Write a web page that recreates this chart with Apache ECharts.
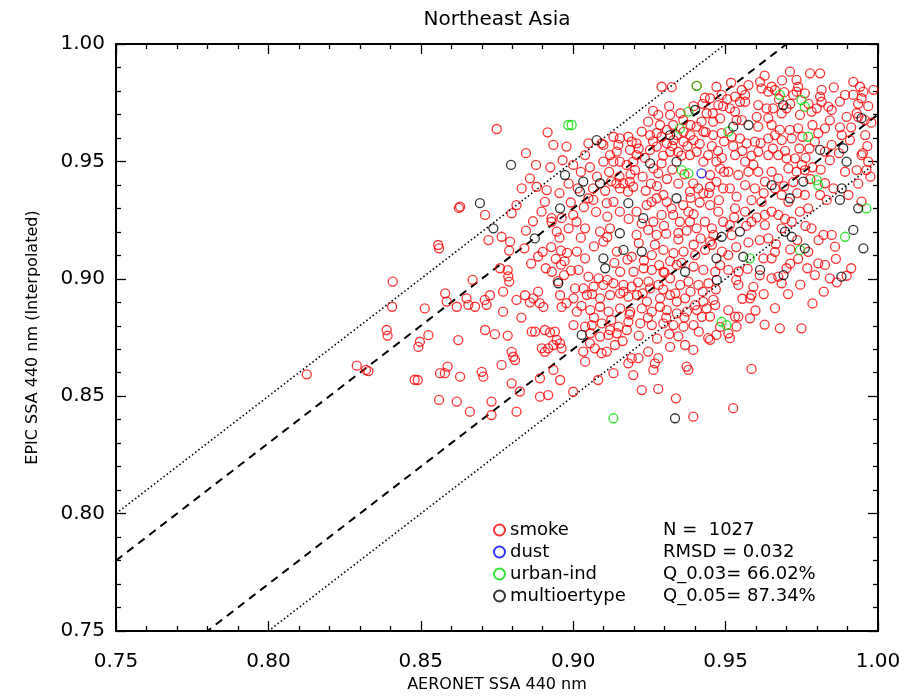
<!DOCTYPE html>
<html>
<head>
<meta charset="utf-8">
<script src="https://cdn.jsdelivr.net/npm/echarts@6/dist/echarts.min.js"></script>
<style>
  html, body { margin: 0; padding: 0; background: #fff; }
  #chart { width: 918px; height: 698px; }
</style>
</head>
<body>
<div id="chart"></div>
<script>
// AERONET vs EPIC single scattering albedo at 440 nm, Northeast Asia
const titleText = 'Northeast Asia';
const xName = 'AERONET SSA 440 nm';
const yName = 'EPIC SSA 440 nm (Interpolated)';
const axisMin = 0.75, axisMax = 1.0, axisStep = 0.05;

// [AERONET, EPIC] pairs per aerosol type
const smoke = [
  [.8126,.8593],[.829,.863],[.832,.8612],[.8328,.8607],[.8408,.8988],[.8406,.8881],[.8388,.8782],[.8391,.8758],[.848,.857],
  [.8749,.9638],[.8916,.9624],[.8935,.957],[.8978,.9563],[.8858,.9428],[.8831,.9385],[.888,.9392],[.8913,.9378],[.8907,.9328],
  [.8896,.9286],[.8629,.9307],[.8625,.9302],[.8711,.9272],[.8798,.9279],[.8814,.9314],[.8929,.9258],[.8962,.9258],[.8946,.9201],
  [.8929,.9243],[.8722,.9165],[.8765,.9179],[.8793,.9158],[.8557,.9144],
  [.856,.913],[.879,.912],[.884,.913],[.890,.9115],[.896,.912],[.898,.911],
  [.876,.9045],[.8785,.9037],[.8787,.901],[.879,.8988],[.877,.8945],
  [.891,.9045],[.893,.903],[.896,.906],[.897,.9016],[.895,.899],
  [.867,.8995],[.858,.8938],[.8585,.8903],[.8513,.8874],
  [.8618,.8881],[.865,.8917],[.8656,.8889],[.8678,.8881],[.871,.891],[.8727,.893],[.8716,.8889],
  [.877,.886],[.8814,.891],[.8842,.893],[.8858,.890],[.8869,.8917],[.8885,.8945],[.889,.8896],[.8902,.888],
  [.883,.8835],[.8957,.893],[.8962,.888],[.8978,.8896],
  [.8525,.876],[.8497,.8732],[.8492,.871],[.8623,.8739],
  [.8711,.8782],[.8743,.8764],[.8785,.8758],
  [.8864,.8775],[.8875,.8775],[.8907,.8782],[.8924,.8772],[.894,.8775],[.8946,.874],[.8957,.8725],[.8935,.8718],
  [.8918,.8704],[.8897,.8704],[.8907,.8689],[.8962,.8704],
  [.8798,.8689],[.8803,.8668],[.8809,.8654],[.8765,.8633],
  [.8563,.8598],[.8579,.8598],[.8588,.8626],[.8629,.8583],[.870,.8604],[.8705,.8583],
  [.849,.8569],[.8798,.8555],[.8825,.852],[.8891,.8576],[.8935,.8612],[.8957,.8569],
  [.8891,.8498],[.8918,.8505],
  [.856,.8484],[.8618,.8477],[.8732,.8477],[.8661,.8434],[.8732,.842],[.8814,.8434],
  [.9394,.8413],[.9337,.8491],[.9225,.8526],[.9279,.8531],
  [.9197,.859],[.9132,.8598],[.9082,.8569],[.9039,.8647],[.900,.8519],
  [.9263,.8612],[.9268,.864],[.9279,.8662],[.9192,.8662],[.9214,.8662],[.9181,.864],[.9246,.869],[.9318,.871],
  [.9378,.8612],[.9372,.8626],[.9394,.8697],[.9367,.8718],
  [.9443,.8747],[.9449,.874],[.947,.8761],
  [.9033,.869],[.9071,.8704],[.9093,.8683],[.911,.869],[.9137,.8718],[.9055,.8725],
  [.9012,.9116],[.9039,.9087],[.9143,.9116],[.9192,.9094],[.9258,.9101],[.9296,.9123],[.9329,.9109],[.9362,.9116],
  [.9400,.9101],[.9433,.9123],[.9488,.9116],
  [.9017,.9038],[.9050,.9009],[.9083,.9002],[.9154,.9030],[.9198,.9030],[.9231,.9045],[.9258,.9038],[.9296,.9030],
  [.9300,.9025],[.9340,.9059],[.9395,.9052],[.9427,.9038],[.9466,.9030],
  [.9006,.8959],[.9034,.8959],[.9067,.8967],[.9099,.8974],[.9132,.8981],[.9165,.8974],[.9192,.8967],[.9247,.8988],
  [.9252,.8959],[.9280,.8974],[.9318,.9002],[.9351,.8974],[.9378,.8988],[.9411,.8974],[.9444,.8981],
  [.9001,.8917],[.9045,.8931],[.9088,.8917],[.9121,.8931],[.9154,.8938],[.9181,.8924],[.9209,.8931],[.9242,.8903],
  [.9285,.8917],[.9318,.8931],[.9340,.8903],[.9367,.8917],[.9400,.8888],[.9427,.8903],[.9460,.8910],
  [.9012,.8860],[.9056,.8867],[.9088,.8881],[.9116,.8860],[.9154,.8874],[.9187,.8860],[.9225,.8874],[.9258,.8860],
  [.9285,.8881],[.9307,.8867],[.9340,.8853],[.9373,.8860],[.9406,.8867],[.9438,.8874],[.9466,.8888],
  [.9001,.8803],[.9039,.8796],[.9061,.8803],[.9094,.8810],[.9121,.8782],[.9149,.8796],[.9181,.8817],[.9220,.8810],
  [.9258,.8803],[.9296,.8810],[.9329,.8803],[.9362,.8796],[.9395,.8803],[.9449,.8839],
  [.9056,.8768],[.9088,.8754],[.9116,.8761],[.9143,.8768],[.9176,.8782],
  [.9509,.9101],[.9624,.9087],[.9651,.9087],[.9662,.9115],[.9771,.9115],[.9804,.9066],[.9826,.9059],[.9859,.9137],
  [.9509,.9038],[.9542,.903],[.9651,.9002],[.9673,.9009],[.970,.9045],[.9684,.8981],[.9793,.9016],[.9842,.9002],[.9897,.9013],
  [.9542,.8974],[.9591,.8966],[.9585,.8931],[.958,.8917],
  [.9509,.8867],[.9542,.8839],[.9531,.8839],[.958,.8832],[.9536,.8796],[.9509,.8768],[.9514,.8747],
  [.9678,.8789],[.9749,.8789],[.9585,.8616],[.9525,.8449],
  [.929,.9818],[.9323,.9816],[.9405,.9822],[.947,.9818],[.9487,.9783],[.9476,.974],[.9432,.9771],[.9449,.9769],
  [.9279,.9698],[.9318,.9698],[.9361,.9676],[.9328,.9655],[.9285,.9655],[.9246,.9669],
  [.9438,.9705],[.9421,.9669],[.9459,.9669],[.9482,.9683],[.9405,.9648],[.9427,.9627],[.9459,.9612],[.9487,.962],
  [.9225,.9627],[.9252,.9612],[.9274,.962],[.9307,.9634],[.929,.9605],
  [.9340,.9612],[.9362,.9626],[.9384,.9612],[.9329,.9591],[.9362,.9584],[.9395,.9591],
  [.9093,.9577],[.9099,.957],[.9132,.9605],[.9153,.9598],[.9148,.957],[.9181,.9605],[.9192,.9584],[.9208,.9577],
  [.9186,.9549],[.9143,.9542],[.9121,.9527],[.9099,.9499],[.9132,.9499],[.9153,.9499],[.9175,.9485],[.9208,.9527],
  [.9197,.9499],[.9203,.9463],
  [.900,.9485],[.9039,.9527],[.905,.9577],
  [.929,.9492],[.9279,.9449],[.9263,.947],[.9344,.9541],[.9318,.9541],[.9307,.9577],[.9274,.9563],[.9252,.9549],
  [.9394,.9406],[.941,.9385],[.9427,.9364],[.9383,.9371],[.9449,.9392],[.947,.9413],[.9449,.9442],[.9482,.947],
  [.947,.9499],[.9427,.9499],[.9443,.9527],[.9405,.9541],[.9383,.9527],
  [.905,.9343],[.9066,.9336],[.9142,.9407],[.9164,.9407],[.9186,.9414],[.9197,.9392],[.9153,.9385],[.918,.9371],
  [.911,.9322],[.9132,.9328],[.9153,.9286],[.9208,.9286],[.9241,.9314],[.9257,.9328],[.9274,.9343],[.9296,.9357],
  [.9307,.9328],[.9323,.93],[.9361,.9314],[.9328,.9272],[.9378,.9286],[.9383,.9243],[.935,.9243],[.9405,.9215],[.9432,.9243],
  [.900,.9272],[.9011,.9243],[.9039,.9215],[.9088,.9201],[.9121,.9215],[.9099,.9158],[.9208,.9187],[.9246,.9208],
  [.9274,.9187],[.9263,.9243],[.929,.9272],
  [.9449,.9314],[.9476,.9286],[.9492,.9243],[.946,.9187],[.9449,.9158],
  [.9711,.9882],[.9777,.9875],[.981,.9875],[.9733,.9847],[.9738,.9818],[.9733,.9797],[.976,.979],[.9722,.9783],
  [.9613,.9839],[.9618,.9811],[.9651,.9818],[.9662,.9804],[.964,.9797],
  [.9919,.9839],[.9941,.9818],[.9952,.9797],[.9946,.9769],[.9919,.9783],[.9892,.9783],
  [.9553,.9804],[.9564,.9783],[.9531,.9776],[.9547,.9754],[.9564,.9754],
  [.981,.9776],[.9815,.9754],[.9837,.9733],[.9848,.9719],[.9799,.9726],[.9782,.9712],[.9744,.9698],[.970,.9726],
  [.9684,.9705],[.9656,.9726],[.9607,.974],[.9634,.9726],[.9602,.969],[.964,.9684],
  [.9897,.969],[.993,.9705],[.9935,.969],[.9957,.9676],
  [.9514,.9726],[.9531,.9712],[.9536,.9676],[.9553,.9676],
  [.9607,.9648],[.9651,.9655],[.9678,.9634],[.9711,.9634],[.9738,.9641],[.9804,.962],[.9826,.9641],[.9793,.9584],
  [.9826,.9542],[.9848,.957],[.9881,.9612],[.9908,.9591],[.9946,.9527],[.9950,.9535],[.9968,.9499],[.9962,.9463],
  [.993,.9463],[.9892,.9456],
  [.9903,.9357],[.9826,.9407],[.981,.9357],[.9832,.9336],[.9854,.9385],[.9848,.9187],[.9821,.9187],[.9782,.9215],
  [.9744,.9286],[.976,.9357],[.9771,.93],[.9946,.9329],
  [.952,.9605],[.9547,.9598],[.9569,.9577],[.9596,.9584],[.9640,.9598],[.9662,.9612],[.9684,.9591],[.9717,.9598],
  [.9607,.9541],[.9640,.9527],[.9673,.9527],[.9700,.9513],[.9728,.9513],[.9750,.9485],[.9564,.9499],[.9591,.9485],[.9531,.9527],
  [.9509,.9456],[.9542,.9442],[.9575,.9456],[.9607,.9456],[.9651,.9456],[.9673,.9428],[.9706,.9470],[.9733,.9456],[.9760,.9463],
  [.9564,.9399],[.9596,.9385],[.9629,.9414],[.9662,.9385],[.9684,.9357],[.9706,.9328],[.9618,.9328],[.9536,.9350],[.9514,.9385],
  [.9531,.9300],[.9564,.9286],[.9585,.9243],[.9629,.9272],[.9651,.9286],[.9673,.9272],[.9717,.9243],[.9684,.9215],
  [.9629,.9229],[.9640,.9172],[.9514,.9229],[.952,.9186],
  // denser core of the cloud
  [.8845,.9205],[.8868,.9245],[.8885,.9095],[.8928,.9135],[.8955,.9175],[.8985,.9215],[.8862,.9065],[.8993,.9035],
  [.8972,.9075],[.8943,.9085],
  [.9025,.9175],[.9068,.9138],[.9112,.9178],[.9135,.9068],[.9178,.9082],[.9215,.9152],[.9232,.9078],[.9268,.9145],
  [.9305,.9192],[.9345,.9168],[.9372,.9205],[.9418,.9172],[.9455,.9215],[.9395,.9145],[.9355,.9068],[.9318,.9075],
  [.9282,.9058],[.9213,.8985],[.9165,.8945],[.9112,.8995],[.9062,.8935],[.9027,.8885],[.9228,.8938],[.9295,.8955],
  [.9335,.8938],[.9385,.8945],[.9425,.8945],[.9468,.8955],[.9482,.9058],[.9455,.9145],[.9365,.8835],[.9305,.8835],
  [.9245,.8835],[.9185,.8848],[.9125,.8825],[.9068,.8835],[.9162,.8735],[.9215,.8758],[.9275,.8745],[.9315,.8765],
  [.9345,.8755],[.9412,.8775],[.9422,.8838],[.9482,.8795],
  [.9535,.9135],[.9575,.9155],[.9612,.9165],[.9665,.9148],[.9712,.9125],[.9738,.9085],[.9768,.9045],[.9712,.9065],
  [.9612,.9015],[.9572,.9042],[.9535,.8995],[.9625,.8935],[.9662,.8875],[.9705,.8935],[.9745,.8975],[.9598,.8865],
  [.9628,.8805],[.9555,.8915],[.9785,.8895],[.9822,.8945],[.9865,.8985],[.9912,.9045],[.9862,.9085],[.9805,.9165],
  [.9762,.9225],[.9735,.9165],[.9695,.9255],[.9602,.9262],[.9568,.9225],[.9528,.9262],
  [.9525,.9565],[.9555,.9545],[.9585,.9525],[.9615,.9578],[.9655,.9555],[.9695,.9545],[.9742,.9555],[.9762,.9515],
  [.9785,.9475],[.9722,.9412],[.9692,.9395],[.9625,.9365],[.9585,.9335],[.9735,.9365],[.9778,.9425],[.9812,.9465],
  [.9842,.9505],[.9775,.9555],[.9752,.9605],[.9785,.9655],[.9842,.9675],[.9875,.9645],[.9912,.9645],[.9958,.9612],
  [.9872,.9535],[.9935,.9405],[.9975,.9435],[.9965,.9565],[.9978,.9665],
  [.9215,.9555],[.9235,.9515],[.9262,.9585],[.9295,.9525],[.9325,.9565],[.9355,.9525],[.9375,.9565],[.9415,.9575],
  [.9455,.9565],[.9475,.9545],[.9495,.9585],[.9435,.9625],[.9385,.9655],[.9352,.9705],[.9315,.9735],[.9262,.9715],
  [.9395,.9735],[.9425,.9745],[.9458,.9705],[.9492,.9735],[.9505,.9765],[.9518,.9835],[.9575,.9825],[.9628,.9865],
  [.9685,.9845],[.9692,.9795],[.9675,.9765],[.9712,.9745],[.9772,.9745],[.9815,.9805],[.9855,.9815],[.9875,.9755],
  [.9935,.9745],[.9985,.9805],[.9968,.9735],
  [.9025,.9455],[.9055,.9475],[.9078,.9435],[.9118,.9455],[.9152,.9435],[.9188,.9445],[.9228,.9435],[.9255,.9405],
  [.9238,.9375],[.9275,.9395],[.9308,.9425],[.9345,.9405],[.9365,.9445],[.9325,.9465],[.9015,.9385],[.9065,.9385],
  [.9105,.9375],[.9125,.9415],[.9035,.9305],[.9075,.9285],[.9112,.9265],[.9182,.9255],[.9225,.9235],[.9298,.9225],
  [.9345,.9195],[.9395,.9275],[.9415,.9325],[.9385,.9345],[.9445,.9365],[.9478,.9335],[.9492,.9385],[.9495,.9455],
  [.9488,.9515],
  [.8845,.9535],[.8878,.9485],[.8925,.9475],[.8965,.9505],[.8985,.9405],[.8955,.9365],[.8992,.9325]
];
const dust = [[.9421,.9449]];
const urban = [
  [.8984,.9655],[.9132,.8406],[.9487,.8817],[.958,.9087],[.9744,.9123],[.9503,.8803],
  [.9405,.9822],[.9378,.9712],[.8995,.9655],[.9356,.9463],[.9378,.9449],[.935,.964],
  [.9678,.9783],[.9749,.9761],[.976,.9733],[.9509,.9627],[.9771,.9605],[.9962,.93],[.9892,.9179],[.9799,.942],[.9804,.9399]
];
const multi = [
  [.8796,.9485],[.8973,.9442],[.8694,.9322],[.8957,.93],[.8738,.9215],[.8874,.9172],[.8951,.8981],
  [.9334,.8406],
  [.9099,.9087],[.9165,.9123],[.9225,.9116],[.947,.9087],[.9105,.9045],[.9367,.9030],[.9471,.8995],[.9028,.8761],
  [.9558,.9094],[.976,.913],[.9952,.913],[.9613,.9038],[.969,.9016],[.988,.9009],
  [.940,.9719],[.9318,.9612],[.9077,.9591],[.9252,.9492],[.9339,.9499],[.9033,.9414],[.9022,.9371],[.9088,.9407],
  [.9181,.9322],[.9339,.9343],[.9153,.9194],[.923,.9258],[.9487,.9179],
  [.9689,.974],[.9575,.9655],[.9525,.9648],[.981,.9549],[.9886,.9556],[.9897,.9499],[.9946,.9684],[.9881,.9385],
  [.9875,.9336],[.9935,.93],[.9919,.9208],[.9755,.9414],[.9711,.9343],
  [.9717,.9179],[.9695,.9201],[.9547,.9201],[.9651,.9399]
];

// reference lines: 1:1 offsets
const dashedOffsets = [0.03, -0.03];
const dottedOffsets = [0.05, -0.05];

// legend entries and summary statistics block
const legendNames = ['smoke', 'dust', 'urban-ind', 'multioertype'];
const statLines = ['N =  1027', 'RMSD = 0.032', 'Q_0.03= 66.02%', 'Q_0.05= 87.34%'];

const FONT = '"DejaVu Sans", Verdana, sans-serif';

function offsetLine(off, type, name) {
  return {
    type: 'line', name: name, silent: true, symbol: 'none', clip: true, z: 1,
    data: [[axisMin, axisMin + off], [axisMax, axisMax + off]],
    lineStyle: type === 'dashed'
      ? { color: '#000', width: 2, type: [8, 6] }
      : { color: '#000', width: 1.6, type: [1.5, 2.5] }
  };
}

function scatter(name, data, color) {
  return {
    type: 'scatter', name: name, data: data, symbol: 'circle', symbolSize: 9, z: 3,
    itemStyle: { color: 'rgba(0,0,0,0)', borderColor: color, borderWidth: 1.3 }
  };
}

function makeAxis(position, extra) {
  return Object.assign({
    type: 'value', position: position, min: axisMin, max: axisMax, interval: axisStep,
    splitLine: { show: false },
    axisLine: { show: true, onZero: false, lineStyle: { color: '#000', width: 2 } },
    axisTick: { show: true, inside: true, length: 10, lineStyle: { color: '#000', width: 1.3 } },
    minorTick: { show: true, splitNumber: 5, length: 5, lineStyle: { color: '#000', width: 1.3 } },
    axisLabel: { show: false }
  }, extra || {});
}

const titleGraphic = {
  type: 'text', x: 497, y: 20,
  style: { text: titleText, fontFamily: FONT, fontSize: 20, fill: '#000', align: 'center', verticalAlign: 'middle' }
};
const statGraphics = statLines.map((t, i) => ({
  type: 'text', x: 663, y: 530 + i * 22,
  style: { text: t, fontFamily: FONT, fontSize: 18, fill: '#000', verticalAlign: 'middle' }
}));

const chart = echarts.init(document.getElementById('chart'), null, { renderer: 'canvas' });
chart.setOption({
  animation: false,
  backgroundColor: '#fff',
  grid: { left: 116, right: 40, top: 44, bottom: 67 },
  xAxis: [
    makeAxis('bottom', {
      name: xName, nameLocation: 'middle', nameGap: 46,
      nameTextStyle: { fontFamily: FONT, fontSize: 16, color: '#000' },
      axisLabel: { show: true, fontFamily: FONT, fontSize: 20, color: '#000', margin: 21, formatter: v => v.toFixed(2) }
    }),
    makeAxis('top')
  ],
  yAxis: [
    makeAxis('left', {
      name: yName, nameLocation: 'middle', nameGap: 75,
      nameTextStyle: { fontFamily: FONT, fontSize: 16, color: '#000' },
      axisLabel: { show: true, fontFamily: FONT, fontSize: 20, color: '#000', margin: 11, formatter: v => v.toFixed(2) }
    }),
    makeAxis('right')
  ],
  legend: {
    orient: 'vertical', left: 493, top: 519, padding: 0, itemGap: 0, itemWidth: 11, itemHeight: 11,
    data: legendNames,
    textStyle: { fontFamily: FONT, fontSize: 18, lineHeight: 22, color: '#000' },
    selectedMode: false
  },
  graphic: [titleGraphic].concat(statGraphics),
  series: [
    offsetLine(dashedOffsets[0], 'dashed', 'upper03'),
    offsetLine(dashedOffsets[1], 'dashed', 'lower03'),
    offsetLine(dottedOffsets[0], 'dotted', 'upper05'),
    offsetLine(dottedOffsets[1], 'dotted', 'lower05'),
    scatter('smoke', smoke, '#ff0000'),
    scatter('dust', dust, '#0000ff'),
    scatter('urban-ind', urban, '#00dd00'),
    scatter('multioertype', multi, '#000000')
  ]
});
</script>
</body>
</html>
